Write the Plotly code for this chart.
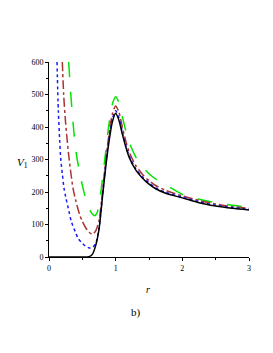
import plotly.graph_objects as go

# black solid curve
r_black = [0, 0.5, 0.6, 0.65, 0.7, 0.75, 0.8, 0.85, 0.9, 0.95, 1.0, 1.05, 1.1, 1.15, 1.2, 1.3, 1.4, 1.5, 1.6, 1.75, 2.0, 2.25, 2.5, 2.75, 3.0]
v_black = [0, 0, 1, 8, 35, 85, 180, 275, 355, 415, 442, 420, 378, 340, 308, 268, 243, 224, 210, 196, 182, 167, 157, 150, 145]

# blue dotted curve
r_blue = [0.12, 0.14, 0.16, 0.175, 0.2, 0.225, 0.25, 0.3, 0.335, 0.4, 0.435, 0.5, 0.55, 0.6, 0.65, 0.7, 0.75, 0.8, 0.85, 0.9, 0.95, 1.0, 1.05, 1.1, 1.15, 1.2, 1.3, 1.4, 1.5, 1.6, 1.75, 2.0, 2.25, 2.5, 2.75, 3.0]
v_blue = [600, 450, 360, 305, 255, 212, 185, 140, 109, 75, 58, 42, 33, 28, 29, 42, 88, 185, 285, 365, 425, 450, 428, 385, 345, 313, 272, 247, 228, 213, 199, 184, 170, 159, 152, 147]

# brown dash-dot curve
r_brown = [0.2, 0.22, 0.25, 0.3, 0.36, 0.4, 0.46, 0.5, 0.55, 0.6, 0.65, 0.7, 0.75, 0.8, 0.85, 0.9, 0.95, 1.0, 1.05, 1.1, 1.15, 1.2, 1.3, 1.4, 1.5, 1.6, 1.75, 2.0, 2.25, 2.5, 2.75, 3.0]
v_brown = [600, 500, 410, 305, 212, 175, 130, 110, 90, 76, 70, 80, 112, 195, 295, 378, 440, 465, 445, 400, 358, 325, 282, 255, 235, 220, 205, 188, 174, 163, 155, 150]

# green long-dash curve
r_green = [0.295, 0.32, 0.35, 0.38, 0.41, 0.45, 0.51, 0.55, 0.585, 0.62, 0.65, 0.685, 0.72, 0.75, 0.785, 0.845, 0.9, 0.95, 1.0, 1.05, 1.1, 1.15, 1.2, 1.3, 1.4, 1.5, 1.6, 1.75, 2.0, 2.25, 2.5, 2.75, 3.0]
v_green = [600, 520, 440, 370, 318, 270, 212, 180, 160, 142, 132, 127, 135, 160, 212, 314, 410, 470, 493, 475, 432, 390, 355, 308, 278, 256, 240, 222, 193, 178, 167, 159, 153]

x_ticks = [0, 1, 2, 3]
y_ticks = [0, 100, 200, 300, 400, 500, 600]

fig = go.Figure()
fig.add_trace(go.Scatter(x=r_green, y=v_green, mode="lines",
                         line=dict(color="#00e600", width=1.5, dash="longdash", shape="spline", smoothing=0.7)))
fig.add_trace(go.Scatter(x=r_brown, y=v_brown, mode="lines",
                         line=dict(color="#aa3333", width=1.5, dash="dashdot", shape="spline", smoothing=0.7)))
fig.add_trace(go.Scatter(x=r_blue, y=v_blue, mode="lines",
                         line=dict(color="#1a1aff", width=1.5, dash="dot", shape="spline", smoothing=0.7)))
fig.add_trace(go.Scatter(x=r_black, y=v_black, mode="lines",
                         line=dict(color="black", width=1.5, shape="spline", smoothing=0.7)))

font_serif = "Liberation Serif, Times New Roman, serif"

# page has an 8px body margin; plot area should span page x 49..249, y 62..257
L, R, T, B = 41, 32, 54, 104
W, H = 273, 353
fig.update_layout(
    width=W, height=H,
    margin=dict(l=L, r=R, t=T, b=B, autoexpand=False),
    paper_bgcolor="white", plot_bgcolor="white",
    showlegend=False,
    font=dict(family=font_serif, size=8, color="black"),
    xaxis=dict(range=[0, 3], tickvals=x_ticks, ticks="outside", ticklen=3, tickcolor="black",
               tickfont=dict(color="black", size=8, family=font_serif),
               showline=True, linecolor="black", linewidth=1, showgrid=False, zeroline=False,
               automargin=False,
               minor=dict(dtick=0.5, ticks="outside", ticklen=2, tickcolor="black")),
    yaxis=dict(range=[0, 600], tickvals=y_ticks, ticks="outside", ticklen=3, tickcolor="black",
               tickfont=dict(color="black", size=8, family=font_serif),
               showline=True, linecolor="black", linewidth=1, showgrid=False, zeroline=False,
               automargin=False,
               minor=dict(dtick=50, ticks="outside", ticklen=2, tickcolor="black")),
)

pw = W - L - R
ph = H - T - B


def paper_xy(page_x, page_y):
    fx = page_x - 8
    fy = page_y - 8
    return (fx - L) / pw, 1 - (fy - T) / ph


anns = [
    ("<i>r</i>", 148, 289, 10),
    ("b)", 136, 312, 11),
    ("<i>V</i><sub>1</sub>", 22, 163, 11),
]
for text, px, py, size in anns:
    ax, ay = paper_xy(px, py)
    fig.add_annotation(text=text, x=ax, y=ay, xref="paper", yref="paper", showarrow=False,
                       xanchor="center", yanchor="middle",
                       font=dict(family=font_serif, size=size, color="black"))

fig.write_html("out.html")
